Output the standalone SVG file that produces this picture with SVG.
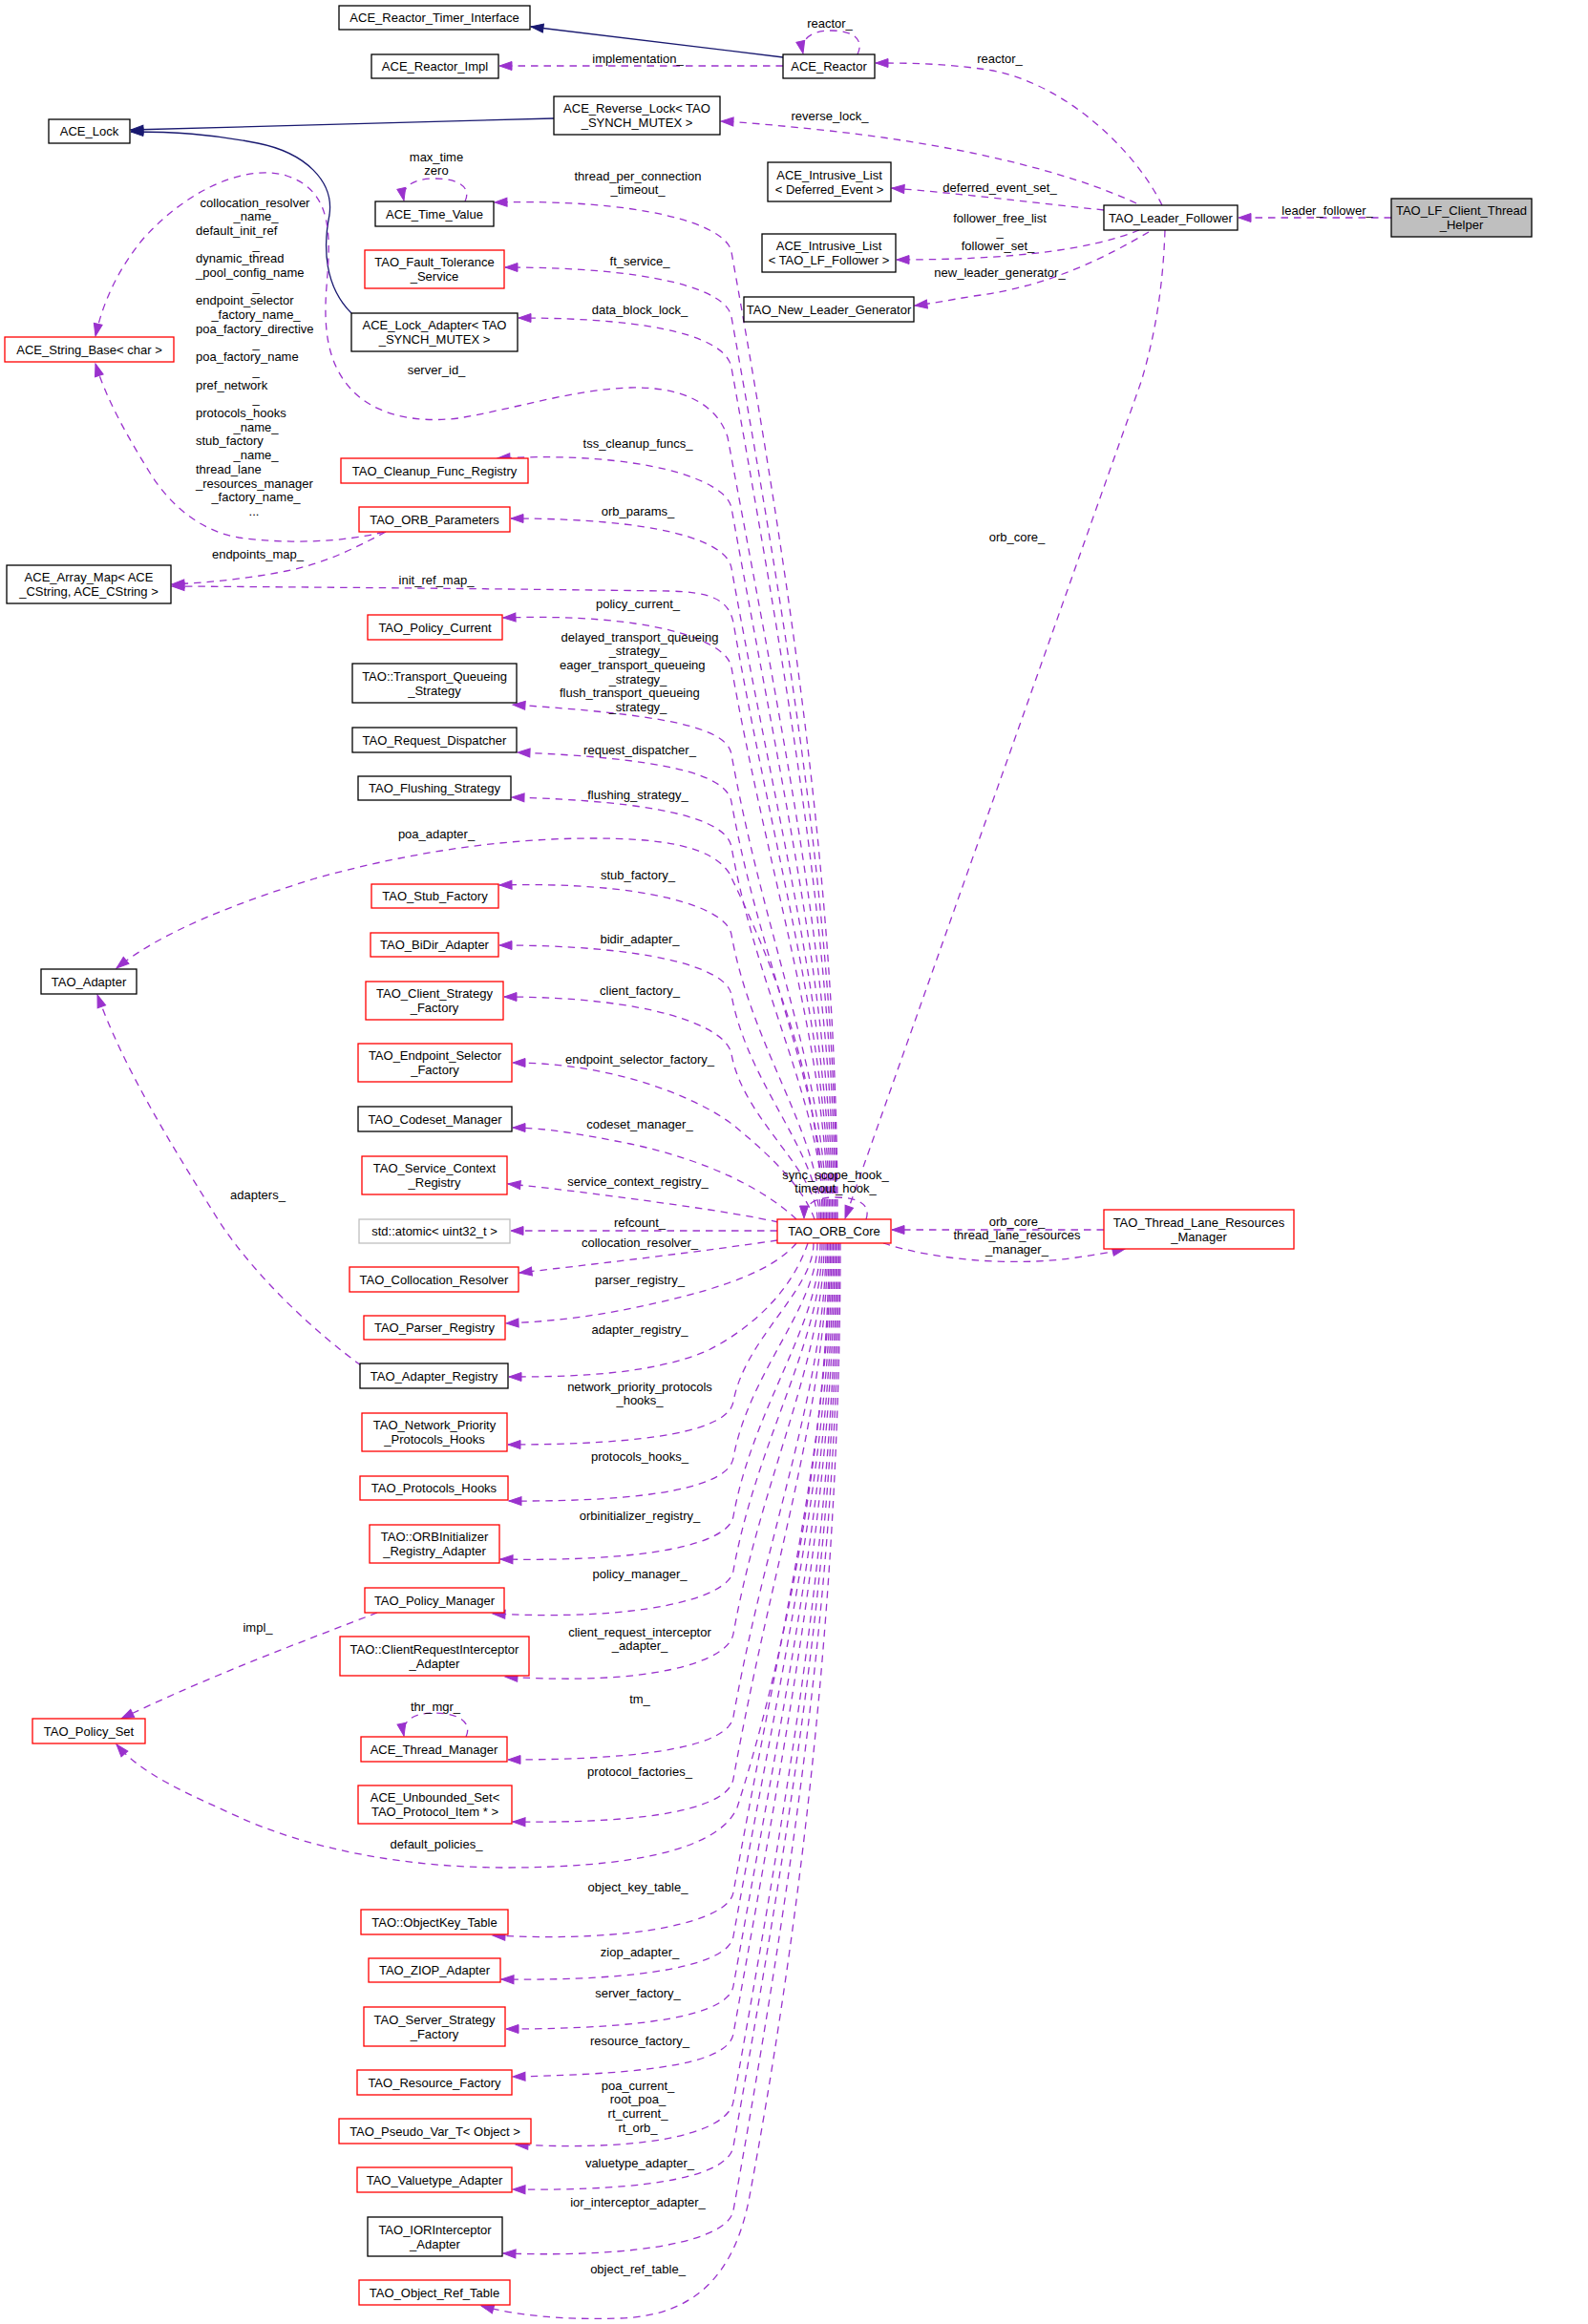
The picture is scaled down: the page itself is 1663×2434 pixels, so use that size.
<svg xmlns="http://www.w3.org/2000/svg" width="1663" height="2434" viewBox="0 0 1663 2434">
<style>
text{font-family:"Liberation Sans",Arial,Helvetica,sans-serif;font-size:13px;fill:#000}
.m{text-anchor:middle}
.s{text-anchor:start}
.n rect{fill:#fff;stroke:#000;stroke-width:1.3}
.r rect{stroke:#ff0000}
.g rect{stroke:#bfbfbf}
.h rect{fill:#bfbfbf}
.e{fill:none;stroke:#9a32cd;stroke-width:1.3;stroke-dasharray:7.5,6;marker-end:url(#ap)}
.i{fill:none;stroke:#191970;stroke-width:1.3;marker-end:url(#an)}
</style>
<defs>
<marker id="ap" viewBox="0 0 13 9" refX="13" refY="4.5" markerWidth="13" markerHeight="9" markerUnits="userSpaceOnUse" orient="auto" overflow="visible"><path d="M0,0 L13,4.5 L0,9 z" fill="#9a32cd" stroke="#9a32cd" stroke-width="1"/></marker>
<marker id="an" viewBox="0 0 13 9" refX="13" refY="4.5" markerWidth="13" markerHeight="9" markerUnits="userSpaceOnUse" orient="auto" overflow="visible"><path d="M0,0 L13,4.5 L0,9 z" fill="#191970" stroke="#191970" stroke-width="1"/></marker>
</defs>
<rect width="1663" height="2434" fill="#fff"/>
<g id="connectors">
<path class="i" d="M820,60 L556,28"/>
<path class="i" d="M580,124 L137,136"/>
<path class="i" d="M368,328 C340,300 338,260 345,225 C350,190 320,160 270,150 C220,140 180,138 137,138"/>
<path class="e" d="M820,69 L523,69"/>
<text class="m" x="668" y="65.5">implementation_</text>
<path class="e" d="M898,57 C905,42 895,32 870,32 C848,32 838,42 841,56"/>
<text class="m" x="869" y="28.5">reactor_</text>
<path class="e" d="M1217,215 C1190,160 1120,90 1040,74 C990,66 950,66 917,66"/>
<text class="m" x="1047" y="65.5">reactor_</text>
<path class="e" d="M1190,213 C1120,180 1000,150 850,135 C810,131 780,128 755,127"/>
<text class="m" x="869" y="125.5">reverse_lock_</text>
<path class="e" d="M1156,220 C1080,212 1000,202 934,197"/>
<text class="m" x="1047" y="200.5">deferred_event_set_</text>
<path class="e" d="M1457,228 L1297,228"/>
<text class="m" x="1390" y="224.5">leader_follower_</text>
<path class="e" d="M1193,241 C1140,262 1060,272 939,272"/>
<text class="m" x="1047" y="232.5">follower_free_list</text>
<text class="m" x="1047" y="247.2">_</text>
<text class="m" x="1045" y="261.9">follower_set_</text>
<path class="e" d="M1203,243 C1160,268 1100,300 1020,310 C995,314 975,318 958,320"/>
<text class="m" x="1047" y="289.5">new_leader_generator_</text>
<path class="e" d="M1220,241 C1218,300 1210,350 1195,400 L885,1276"/>
<text class="m" x="1065" y="567">orb_core_</text>
<path class="e" d="M487,211 C494,196 480,187 455,187 C432,187 420,196 423,210"/>
<text class="m" x="457" y="168.5">max_time</text>
<text class="m" x="457" y="183.2">zero</text>
<path class="e" d="M877,1277 C877,973 839,669 766,264 C761,234 668,208 518,212"/>
<text class="m" x="668" y="188.5">thread_per_connection</text>
<text class="m" x="668" y="203.2">_timeout_</text>
<path class="e" d="M876,1277 C876,994 834,710 766,332 C761,302 679,280 529,280"/>
<text class="m" x="670" y="277.5">ft_service_</text>
<path class="e" d="M874.5,1277 C874.5,1009 830,742 766,385 C761,355 693,333 543,333"/>
<text class="m" x="670" y="328.5">data_block_lock_</text>
<path class="e" d="M873,1277 C873,1030 826,800 762,458 C750,420 710,405 660,406 C600,408 540,428 480,438 C430,444 390,432 368,408 C345,383 338,350 342,300 C346,250 350,200 300,184 C260,172 200,195 150,250 C125,280 108,315 100,352"/>
<text class="m" x="457" y="391.5">server_id_</text>
<path class="e" d="M402,557 C360,568 300,570 250,563 C210,556 180,530 160,500 C135,460 112,420 100,381"/>
<text class="m" x="267" y="216.5">collocation_resolver</text>
<text class="m" x="268" y="231.2">_name_</text>
<text class="s" x="205" y="245.9">default_init_ref</text>
<text class="m" x="268" y="260.6">_</text>
<text class="s" x="205" y="275.3">dynamic_thread</text>
<text class="s" x="205" y="290">_pool_config_name</text>
<text class="m" x="268" y="304.7">_</text>
<text class="s" x="205" y="319.4">endpoint_selector</text>
<text class="m" x="268" y="334.1">_factory_name_</text>
<text class="s" x="205" y="348.8">poa_factory_directive</text>
<text class="m" x="268" y="363.5">_</text>
<text class="s" x="205" y="378.2">poa_factory_name</text>
<text class="m" x="268" y="392.9">_</text>
<text class="s" x="205" y="407.6">pref_network</text>
<text class="m" x="268" y="422.3">_</text>
<text class="s" x="205" y="437">protocols_hooks</text>
<text class="m" x="268" y="451.7">_name_</text>
<text class="s" x="205" y="466.4">stub_factory</text>
<text class="m" x="268" y="481.1">_name_</text>
<text class="s" x="205" y="495.8">thread_lane</text>
<text class="s" x="205" y="510.5">_resources_manager</text>
<text class="m" x="268" y="525.2">_factory_name_</text>
<text class="m" x="266" y="539.9">...</text>
<path class="e" d="M404,557 C370,575 340,590 300,598 C260,606 220,610 180,612"/>
<text class="m" x="270" y="584.5">endpoints_map_</text>
<path class="e" d="M871.5,1277 C871.5,1053.5 819.6,830 766,532 C761,502 671,472 521,480"/>
<text class="m" x="668" y="468.5">tss_cleanup_funcs_</text>
<path class="e" d="M870,1277 C870,1072.4 815.1,867.8 766,595 C761,565 685,543 535,543"/>
<text class="m" x="668" y="539.5">orb_params_</text>
<path class="e" d="M868.5,1277 C868.5,1089 811,900 768,652 C763,628 745,620 700,619 C550,617 350,615 180,614"/>
<text class="m" x="457" y="611.5">init_ref_map_</text>
<path class="e" d="M867,1277 C867,1103.6 807.6,930.2 766,699 C761,669 677,642 527,647"/>
<text class="m" x="668" y="636.5">policy_current_</text>
<path class="e" d="M865.5,1277 C865.5,1130.9 801,984.8 766,790 C761,760 687,748 537,738"/>
<text class="m" x="670" y="671.5">delayed_transport_queueing</text>
<text class="m" x="668" y="686.2">_strategy_</text>
<text class="s" x="586" y="700.9">eager_transport_queueing</text>
<text class="m" x="668" y="715.6">_strategy_</text>
<text class="s" x="586" y="730.3">flush_transport_queueing</text>
<text class="m" x="668" y="745">_strategy_</text>
<path class="e" d="M864,1277 C864,1145.9 797.5,1014.8 766,840 C761,810 692,794 542,788"/>
<text class="m" x="670" y="789.5">request_dispatcher_</text>
<path class="e" d="M862.5,1277 C862.5,1160 794,1043 766,887 C761,857 686,839 536,835"/>
<text class="m" x="668" y="836.5">flushing_strategy_</text>
<path class="e" d="M861,1277 C861,1120 795,980 764,915 C745,885 690,878 620,878 C520,878 420,895 330,920 C250,945 170,975 122,1014"/>
<text class="m" x="457" y="877.5">poa_adapter_</text>
<path class="e" d="M859.5,1277 C859.5,1187.6 787.5,1098.2 766,979 C761,949 673,923 523,927"/>
<text class="m" x="668" y="920.5">stub_factory_</text>
<path class="e" d="M858,1277 C858,1206.5 782.9,1136 766,1042 C761,1012 673,990 523,990"/>
<text class="m" x="670" y="987.5">bidir_adapter_</text>
<path class="e" d="M856,1277 C856,1225 778.5,1173 766,1104 C761,1074 678,1044 528,1044"/>
<text class="m" x="670" y="1041.5">client_factory_</text>
<path class="e" d="M853,1277 C840,1240 800,1205 770,1180 C740,1155 650,1113 537,1113"/>
<text class="m" x="670" y="1113.5">endpoint_selector_factory_</text>
<path class="e" d="M834,1277 C800,1245 740,1215 660,1198 C610,1188 570,1181 537,1181"/>
<text class="m" x="670" y="1181.5">codeset_manager_</text>
<path class="e" d="M815,1280 C760,1268 680,1258 620,1250 C580,1245 555,1242 532,1240"/>
<text class="m" x="668" y="1241.5">service_context_registry_</text>
<path class="e" d="M378,1430 C330,1395 270,1340 230,1280 C180,1200 130,1120 102,1042"/>
<text class="m" x="270" y="1255.5">adapters_</text>
<path class="e" d="M907,1277 C912,1262 900,1254 875,1254 C855,1254 842,1260 842,1276"/>
<text class="m" x="875" y="1234.5">sync_scope_hook_</text>
<text class="m" x="875" y="1249">timeout_hook_</text>
<path class="e" d="M814,1289 L535,1289"/>
<text class="m" x="670" y="1284.5">refcount_</text>
<path class="e" d="M814,1299 C740,1310 640,1322 544,1333"/>
<text class="m" x="670" y="1305.5">collocation_resolver_</text>
<path class="e" d="M1156,1288 L934,1288"/>
<path class="e" d="M925,1302 C980,1320 1060,1326 1120,1318 C1150,1314 1165,1311 1178,1308"/>
<text class="m" x="1065" y="1283.5">orb_core_</text>
<text class="m" x="1065" y="1298.2">thread_lane_resources</text>
<text class="m" x="1065" y="1312.9">_manager_</text>
<path class="e" d="M834,1302 C810,1330 760,1348 690,1364 C630,1378 580,1384 530,1386"/>
<text class="m" x="670" y="1344.5">parser_registry_</text>
<path class="e" d="M846,1302 C830,1350 790,1390 740,1415 C680,1440 600,1442 533,1442"/>
<text class="m" x="670" y="1396.5">adapter_registry_</text>
<path class="e" d="M852,1302 C852,1351.8 780,1401.6 768,1468 C763,1498 682,1513 532,1513"/>
<text class="m" x="670" y="1456.5">network_priority_protocols</text>
<text class="m" x="670" y="1471.2">_hooks_</text>
<path class="e" d="M856,1302 C856,1369.5 784.2,1437 768,1527 C763,1557 683,1573 533,1572"/>
<text class="m" x="670" y="1529.5">protocols_hooks_</text>
<path class="e" d="M859,1302 C859,1387.8 788.6,1473.6 768,1588 C763,1618 674,1636 524,1633"/>
<text class="m" x="670" y="1591.5">orbinitializer_registry_</text>
<path class="e" d="M861,1302 C861,1404.9 792.7,1507.8 768,1645 C763,1675 666,1698 516,1690"/>
<text class="m" x="670" y="1652.5">policy_manager_</text>
<path class="e" d="M395,1689 C320,1718 220,1755 127,1800"/>
<text class="m" x="270" y="1708.5">impl_</text>
<path class="e" d="M863,1302 C863,1424.7 797.4,1547.4 768,1711 C763,1741 679,1766 529,1756"/>
<text class="m" x="670" y="1713.5">client_request_interceptor</text>
<text class="m" x="670" y="1728.2">_adapter_</text>
<path class="e" d="M865,1302 C865,1450.8 803.7,1599.6 768,1798 C763,1828 682,1843 532,1843"/>
<text class="m" x="670" y="1783.5">tm_</text>
<path class="e" d="M488,1819 C495,1804 480,1794 455,1794 C432,1794 420,1803 423,1818"/>
<text class="m" x="456" y="1791.5">thr_mgr_</text>
<path class="e" d="M866.5,1302 C866.5,1470.3 808.4,1638.6 768,1863 C763,1893 687,1910 537,1908"/>
<text class="m" x="670" y="1859.5">protocol_factories_</text>
<path class="e" d="M868,1302 C868,1520 815,1760 772,1893 C752,1940 650,1956 530,1956 C420,1956 320,1935 250,1903 C200,1880 150,1860 122,1827"/>
<text class="m" x="457" y="1935.5">default_policies_</text>
<path class="e" d="M869.5,1302 C869.5,1506 817,1710 768,1982 C763,2012 666,2035 516,2027"/>
<text class="m" x="668" y="1980.5">object_key_table_</text>
<path class="e" d="M871,1302 C871,1519.8 820.3,1737.6 768,2028 C763,2058 675,2075 525,2073"/>
<text class="m" x="670" y="2048.5">ziop_adapter_</text>
<path class="e" d="M872.5,1302 C872.5,1535.4 824,1768.8 768,2080 C763,2110 680,2125 530,2125"/>
<text class="m" x="668" y="2092">server_factory_</text>
<path class="e" d="M874,1302 C874,1550.4 827.6,1798.8 768,2130 C763,2160 687,2172 537,2175"/>
<text class="m" x="670" y="2141.5">resource_factory_</text>
<path class="e" d="M875.5,1302 C875.5,1571.7 832.7,1841.4 768,2201 C763,2231 690,2254 540,2246"/>
<text class="m" x="668" y="2188.5">poa_current_</text>
<text class="m" x="668" y="2203.2">root_poa_</text>
<text class="m" x="668" y="2217.9">rt_current_</text>
<text class="m" x="668" y="2232.6">rt_orb_</text>
<path class="e" d="M877,1302 C877,1585.8 836.1,1869.6 768,2248 C763,2278 687,2295 537,2293"/>
<text class="m" x="670" y="2270">valuetype_adapter_</text>
<path class="e" d="M878.5,1302 C878.5,1605.9 840.9,1909.8 768,2315 C763,2345 677,2365 527,2360"/>
<text class="m" x="668" y="2311">ior_interceptor_adapter_</text>
<path class="e" d="M880,1302 C880,1700 830,2060 785,2300 C770,2380 730,2425 650,2428 C590,2430 540,2425 504,2415"/>
<text class="m" x="668" y="2381.3">object_ref_table_</text>
</g>
<g id="nodes">
<g id="n_ACE_Reactor_Timer_Interface" class="n"><rect x="355" y="6" width="200" height="25"/><text class="m" x="455" y="23">ACE_Reactor_Timer_Interface</text></g>
<g id="n_ACE_Reactor_Impl" class="n"><rect x="389" y="57" width="133" height="25"/><text class="m" x="455.5" y="74">ACE_Reactor_Impl</text></g>
<g id="n_ACE_Reactor" class="n"><rect x="820" y="57" width="96" height="25"/><text class="m" x="868" y="74">ACE_Reactor</text></g>
<g id="n_ACE_Reverse_Lock" class="n"><rect x="580" y="101" width="174" height="40"/><text class="m" x="667" y="118">ACE_Reverse_Lock&lt; TAO</text><text class="m" x="667" y="133">_SYNCH_MUTEX &gt;</text></g>
<g id="n_ACE_Lock" class="n"><rect x="51" y="125" width="85" height="25"/><text class="m" x="93.5" y="142">ACE_Lock</text></g>
<g id="n_ACE_Intrusive_List_Deferred" class="n"><rect x="804" y="170" width="129" height="41"/><text class="m" x="868.5" y="187.5">ACE_Intrusive_List</text><text class="m" x="868.5" y="202.5">&lt; Deferred_Event &gt;</text></g>
<g id="n_TAO_Leader_Follower" class="n"><rect x="1156" y="215" width="140" height="26"/><text class="m" x="1226" y="232.5">TAO_Leader_Follower</text></g>
<g id="n_TAO_LF_Client_Thread_Helper" class="n h"><rect x="1457" y="208" width="147" height="40"/><text class="m" x="1530.5" y="225">TAO_LF_Client_Thread</text><text class="m" x="1530.5" y="240">_Helper</text></g>
<g id="n_ACE_Intrusive_List_Follower" class="n"><rect x="798" y="245" width="140" height="40"/><text class="m" x="868" y="262">ACE_Intrusive_List</text><text class="m" x="868" y="277">&lt; TAO_LF_Follower &gt;</text></g>
<g id="n_TAO_New_Leader_Generator" class="n"><rect x="779" y="311" width="178" height="26"/><text class="m" x="868" y="328.5">TAO_New_Leader_Generator</text></g>
<g id="n_ACE_Time_Value" class="n"><rect x="393" y="211" width="124" height="26"/><text class="m" x="455" y="228.5">ACE_Time_Value</text></g>
<g id="n_TAO_Fault_Tolerance_Service" class="n r"><rect x="382" y="262" width="146" height="40"/><text class="m" x="455" y="279">TAO_Fault_Tolerance</text><text class="m" x="455" y="294">_Service</text></g>
<g id="n_ACE_Lock_Adapter" class="n"><rect x="368" y="328" width="174" height="40"/><text class="m" x="455" y="345">ACE_Lock_Adapter&lt; TAO</text><text class="m" x="455" y="360">_SYNCH_MUTEX &gt;</text></g>
<g id="n_ACE_String_Base" class="n r"><rect x="5" y="353" width="177" height="26"/><text class="m" x="93.5" y="370.5">ACE_String_Base&lt; char &gt;</text></g>
<g id="n_TAO_Cleanup_Func_Registry" class="n r"><rect x="357" y="480" width="196" height="26"/><text class="m" x="455" y="497.5">TAO_Cleanup_Func_Registry</text></g>
<g id="n_TAO_ORB_Parameters" class="n r"><rect x="376" y="531" width="158" height="26"/><text class="m" x="455" y="548.5">TAO_ORB_Parameters</text></g>
<g id="n_ACE_Array_Map" class="n"><rect x="7" y="592" width="172" height="40"/><text class="m" x="93" y="609">ACE_Array_Map&lt; ACE</text><text class="m" x="93" y="624">_CString, ACE_CString &gt;</text></g>
<g id="n_TAO_Policy_Current" class="n r"><rect x="385" y="644" width="141" height="26"/><text class="m" x="455.5" y="661.5">TAO_Policy_Current</text></g>
<g id="n_TAO_Transport_Queueing_Strategy" class="n"><rect x="369" y="695" width="172" height="41"/><text class="m" x="455" y="712.5">TAO::Transport_Queueing</text><text class="m" x="455" y="727.5">_Strategy</text></g>
<g id="n_TAO_Request_Dispatcher" class="n"><rect x="369" y="762" width="172" height="26"/><text class="m" x="455" y="779.5">TAO_Request_Dispatcher</text></g>
<g id="n_TAO_Flushing_Strategy" class="n"><rect x="375" y="813" width="160" height="25"/><text class="m" x="455" y="830">TAO_Flushing_Strategy</text></g>
<g id="n_TAO_Stub_Factory" class="n r"><rect x="389" y="926" width="133" height="25"/><text class="m" x="455.5" y="943">TAO_Stub_Factory</text></g>
<g id="n_TAO_Adapter" class="n"><rect x="43" y="1015" width="100" height="26"/><text class="m" x="93" y="1032.5">TAO_Adapter</text></g>
<g id="n_TAO_BiDir_Adapter" class="n r"><rect x="388" y="977" width="134" height="25"/><text class="m" x="455" y="994">TAO_BiDir_Adapter</text></g>
<g id="n_TAO_Client_Strategy_Factory" class="n r"><rect x="383" y="1028" width="144" height="40"/><text class="m" x="455" y="1045">TAO_Client_Strategy</text><text class="m" x="455" y="1060">_Factory</text></g>
<g id="n_TAO_Endpoint_Selector_Factory" class="n r"><rect x="375" y="1093" width="161" height="40"/><text class="m" x="455.5" y="1110">TAO_Endpoint_Selector</text><text class="m" x="455.5" y="1125">_Factory</text></g>
<g id="n_TAO_Codeset_Manager" class="n"><rect x="375" y="1159" width="161" height="26"/><text class="m" x="455.5" y="1176.5">TAO_Codeset_Manager</text></g>
<g id="n_TAO_Service_Context_Registry" class="n r"><rect x="379" y="1211" width="152" height="40"/><text class="m" x="455" y="1228">TAO_Service_Context</text><text class="m" x="455" y="1243">_Registry</text></g>
<g id="n_std_atomic" class="n g"><rect x="376" y="1277" width="158" height="25"/><text class="m" x="455" y="1294">std::atomic&lt; uint32_t &gt;</text></g>
<g id="n_TAO_ORB_Core" class="n r"><rect x="814" y="1277" width="119" height="25"/><text class="m" x="873.5" y="1294">TAO_ORB_Core</text></g>
<g id="n_TAO_Thread_Lane_Resources_Manager" class="n r"><rect x="1156" y="1267" width="199" height="41"/><text class="m" x="1255.5" y="1284.5">TAO_Thread_Lane_Resources</text><text class="m" x="1255.5" y="1299.5">_Manager</text></g>
<g id="n_TAO_Collocation_Resolver" class="n r"><rect x="366" y="1327" width="177" height="26"/><text class="m" x="454.5" y="1344.5">TAO_Collocation_Resolver</text></g>
<g id="n_TAO_Parser_Registry" class="n r"><rect x="381" y="1378" width="148" height="25"/><text class="m" x="455" y="1395">TAO_Parser_Registry</text></g>
<g id="n_TAO_Adapter_Registry" class="n"><rect x="377" y="1428" width="155" height="26"/><text class="m" x="454.5" y="1445.5">TAO_Adapter_Registry</text></g>
<g id="n_TAO_Network_Priority_Protocols_Hooks" class="n r"><rect x="379" y="1480" width="152" height="40"/><text class="m" x="455" y="1497">TAO_Network_Priority</text><text class="m" x="455" y="1512">_Protocols_Hooks</text></g>
<g id="n_TAO_Protocols_Hooks" class="n r"><rect x="377" y="1546" width="155" height="25"/><text class="m" x="454.5" y="1563">TAO_Protocols_Hooks</text></g>
<g id="n_TAO_ORBInitializer_Registry_Adapter" class="n r"><rect x="387" y="1597" width="136" height="40"/><text class="m" x="455" y="1614">TAO::ORBInitializer</text><text class="m" x="455" y="1629">_Registry_Adapter</text></g>
<g id="n_TAO_Policy_Manager" class="n r"><rect x="382" y="1663" width="146" height="26"/><text class="m" x="455" y="1680.5">TAO_Policy_Manager</text></g>
<g id="n_TAO_ClientRequestInterceptor_Adapter" class="n r"><rect x="356" y="1714" width="198" height="41"/><text class="m" x="455" y="1731.5">TAO::ClientRequestInterceptor</text><text class="m" x="455" y="1746.5">_Adapter</text></g>
<g id="n_TAO_Policy_Set" class="n r"><rect x="34" y="1800" width="118" height="26"/><text class="m" x="93" y="1817.5">TAO_Policy_Set</text></g>
<g id="n_ACE_Thread_Manager" class="n r"><rect x="378" y="1819" width="153" height="26"/><text class="m" x="454.5" y="1836.5">ACE_Thread_Manager</text></g>
<g id="n_ACE_Unbounded_Set" class="n r"><rect x="375" y="1870" width="161" height="40"/><text class="m" x="455.5" y="1887">ACE_Unbounded_Set&lt;</text><text class="m" x="455.5" y="1902">TAO_Protocol_Item * &gt;</text></g>
<g id="n_TAO_ObjectKey_Table" class="n r"><rect x="378" y="2000" width="154" height="26"/><text class="m" x="455" y="2017.5">TAO::ObjectKey_Table</text></g>
<g id="n_TAO_ZIOP_Adapter" class="n r"><rect x="386" y="2051" width="138" height="25"/><text class="m" x="455" y="2068">TAO_ZIOP_Adapter</text></g>
<g id="n_TAO_Server_Strategy_Factory" class="n r"><rect x="381" y="2102" width="148" height="41"/><text class="m" x="455" y="2119.5">TAO_Server_Strategy</text><text class="m" x="455" y="2134.5">_Factory</text></g>
<g id="n_TAO_Resource_Factory" class="n r"><rect x="374" y="2168" width="162" height="26"/><text class="m" x="455" y="2185.5">TAO_Resource_Factory</text></g>
<g id="n_TAO_Pseudo_Var_T" class="n r"><rect x="355" y="2219" width="201" height="26"/><text class="m" x="455.5" y="2236.5">TAO_Pseudo_Var_T&lt; Object &gt;</text></g>
<g id="n_TAO_Valuetype_Adapter" class="n r"><rect x="374" y="2270" width="162" height="26"/><text class="m" x="455" y="2287.5">TAO_Valuetype_Adapter</text></g>
<g id="n_TAO_IORInterceptor_Adapter" class="n"><rect x="385" y="2322" width="141" height="41"/><text class="m" x="455.5" y="2339.5">TAO_IORInterceptor</text><text class="m" x="455.5" y="2354.5">_Adapter</text></g>
<g id="n_TAO_Object_Ref_Table" class="n r"><rect x="376" y="2388" width="158" height="26"/><text class="m" x="455" y="2405.5">TAO_Object_Ref_Table</text></g>
</g>
</svg>
